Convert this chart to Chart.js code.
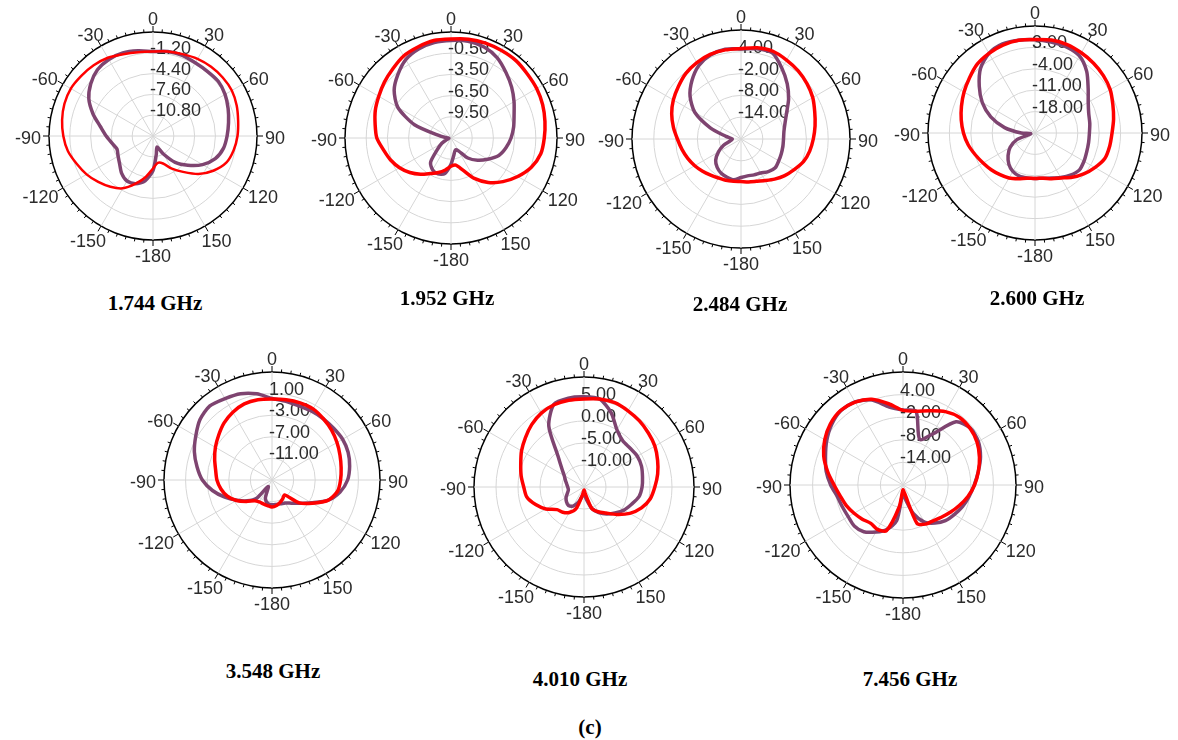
<!DOCTYPE html>
<html lang="en">
<head>
  <meta charset="UTF-8" />
  <title>Radiation Patterns (c)</title>
  <script src="https://cdn.jsdelivr.net/npm/chart.js"></script>
  <style>
    body {
      margin: 0;
      background: #fff;
    }

    #page {
      position: relative;
      width: 1178px;
      height: 740px;
      overflow: hidden;
    }

    canvas {
      position: absolute;
    }

    .caption {
      position: absolute;
      transform: translate(-50%, -50%);
      font-family: "Liberation Serif", "Times New Roman", serif;
      font-weight: bold;
      font-size: 21px;
      color: #000;
      white-space: nowrap;
    }
  </style>
</head>
<body>
  <div id="page"></div>

  <script>
    // angle of each sample, clockwise from the top (0 ... 180, -170 ... -10)
    const angleLabels = [0, 10, 20, 30, 40, 50, 60, 70, 80, 90, 100, 110, 120, 130, 140, 150, 160, 170, 180,
      -170, -160, -150, -140, -130, -120, -110, -100, -90, -80, -70, -60, -50, -40, -30, -20, -10];
    const angleTicks = [0, 30, 60, 90, 120, 150, -180, -150, -120, -90, -60, -30];

    const freqLabels = ['1.744 GHz', '1.952 GHz', '2.484 GHz', '2.600 GHz', '3.548 GHz', '4.010 GHz', '7.456 GHz'];
    const scaleMin = [-14, -12.5, -20, -25, -15, -15, -20];
    const scaleMax = [2, 2.5, 10, 10, 5, 10, 10];

    // gain in dB, red and purple traces
    const red1744 = [-1.0, -0.8, -0.6, -0.3, -0.1, 0.0, 0.0, -0.3, -0.7, -1.0, -1.4, -2.0, -3.3, -4.9, -6.8, -8.2, -9.5, -9.8, -9.0,
      -7.6, -6.2, -4.7, -3.8, -3.0, -2.2, -1.5, -0.7, -0.2, 0.2, 0.5, 0.6, 0.4, 0.2, -0.1, -0.6, -0.9];
    const purple1744 = [-1.0, -0.8, -0.8, -1.0, -1.0, -0.9, -1.2, -1.7, -2.2, -2.6, -3.0, -3.8, -5.2, -7.0, -8.7, -10.8, -12.2, -11.1, -8.7,
      -7.0, -6.2, -6.0, -6.5, -7.3, -7.8, -8.1, -7.6, -6.8, -5.8, -4.2, -2.6, -1.5, -0.7, -0.4, -0.4, -0.7];

    const red1952 = [1.5, 1.7, 1.8, 1.8, 1.8, 1.6, 1.5, 1.3, 1.0, 0.7, 0.4, -0.4, -1.6, -2.9, -4.3, -5.9, -7.7, -8.6, -8.5,
      -7.9, -7.3, -6.7, -5.8, -4.9, -4.1, -3.4, -2.8, -2.0, -1.6, -1.1, -0.7, -0.2, 0.3, 0.9, 1.2, 1.5];
    const purple1952 = [1.3, 1.4, 1.2, 0.6, -0.4, -1.3, -2.2, -3.0, -3.5, -4.0, -4.6, -5.3, -6.5, -7.6, -8.8, -10.4, -10.7, -10.1, -8.8,
      -7.4, -7.1, -7.3, -8.0, -10.0, -11.0, -11.8, -12.2, -12.0, -11.0, -7.0, -3.8, -2.0, -0.8, 0.3, 0.9, 1.2];

    const red2484 = [4.9, 5.5, 5.7, 5.1, 4.5, 3.7, 2.8, 1.6, 0.7, -0.1, -0.8, -1.7, -3.1, -4.3, -5.6, -6.8, -7.6, -8.0, -8.3,
      -8.2, -7.9, -7.6, -7.0, -6.2, -5.3, -4.4, -3.5, -2.5, -1.1, 0.3, 1.5, 2.5, 3.6, 4.3, 4.8, 4.9];
    const purple2484 = [4.8, 5.2, 5.2, 2.5, -0.2, -2.9, -5.5, -7.1, -8.0, -8.3, -8.3, -8.2, -8.0, -7.7, -8.3, -9.2, -9.5, -9.7, -9.4,
      -8.6, -8.8, -9.1, -9.8, -10.9, -12.8, -14.9, -17.0, -17.6, -15.8, -11.0, -5.3, -1.7, 1.0, 3.3, 4.6, 5.1];

    const red2600 = [5.6, 5.9, 5.8, 5.3, 4.8, 4.2, 3.4, 2.1, 1.1, 0.2, -0.2, -0.7, -2.4, -4.2, -6.1, -8.0, -9.1, -10.0, -10.1,
      -10.0, -9.1, -8.0, -7.2, -6.3, -5.4, -4.2, -2.8, -1.6, -0.5, 0.6, 1.8, 3.0, 4.4, 5.1, 5.6, 5.8];
    const purple2600 = [5.5, 5.2, 5.0, 4.1, 1.3, -2.3, -4.9, -6.3, -6.8, -7.2, -7.2, -7.0, -6.5, -6.1, -7.0, -8.2, -9.3, -10.0, -10.1,
      -10.1, -10.0, -10.5, -11.7, -13.5, -15.6, -18.7, -23.6, -20.5, -14.9, -9.6, -5.1, -1.2, 2.7, 5.1, 6.0, 5.8];

    const red3548 = [0.0, 0.1, 0.2, 0.2, -0.2, -0.6, -1.1, -1.6, -2.0, -2.3, -2.7, -4.0, -6.4, -8.4, -11.4, -11.0, -10.6, -10.2, -10.0,
      -10.2, -10.3, -10.3, -10.0, -8.8, -7.4, -6.2, -5.4, -4.8, -4.4, -3.7, -2.9, -2.1, -1.2, -0.5, 0.0, 0.1];
    const purple3548 = [0.1, -0.2, -0.4, -0.3, -0.2, -0.1, 0.1, 0.0, -0.4, -1.0, -2.2, -4.0, -6.6, -8.3, -9.4, -10.1, -10.3, -10.4, -10.4,
      -10.6, -11.4, -13.6, -10.6, -9.0, -7.5, -5.7, -3.8, -2.1, -0.9, 0.3, 1.3, 2.4, 2.9, 2.4, 2.0, 1.2];

    const red4010 = [5.0, 5.3, 5.4, 5.0, 4.6, 4.1, 3.6, 2.8, 2.0, 1.1, 0.3, -1.1, -3.0, -5.3, -7.3, -8.5, -9.8, -13.5, -14.3,
      -13.3, -9.8, -8.3, -7.5, -7.0, -5.0, -3.3, -1.8, -1.3, -0.5, 0.3, 1.4, 2.4, 3.5, 4.4, 4.9, 5.0];
    const purple4010 = [5.5, 5.3, 3.0, 0.0, -1.3, -1.3, -1.0, -1.1, -1.5, -1.8, -2.3, -3.5, -4.5, -5.8, -7.0, -8.3, -9.8, -12.3, -13.5,
      -13.0, -11.3, -10.0, -9.5, -9.8, -10.3, -11.0, -11.4, -11.3, -11.0, -10.5, -9.8, -8.4, -5.8, 1.0, 5.0, 5.5];

    const red7456 = [-0.2, -0.1, 1.0, 2.5, 3.4, 3.3, 2.7, 1.6, 0.3, -1.0, -2.5, -4.1, -5.5, -6.7, -7.6, -8.0, -9.2, -17.9, -18.7,
      -14.0, -7.1, -6.4, -6.7, -5.9, -5.0, -4.0, -3.1, -1.7, 0.3, 2.4, 4.0, 5.2, 5.8, 5.4, 4.2, 1.9];
    const purple7456 = [-0.1, -0.1, -7.1, -4.4, 1.9, 3.4, 3.1, 1.9, 0.3, -1.1, -2.2, -3.2, -4.3, -5.3, -6.8, -8.6, -11.9, -16.1, -17.9,
      -10.4, -7.4, -5.6, -3.8, -3.1, -3.2, -2.9, -2.3, -0.8, 0.7, 1.9, 3.4, 4.8, 5.7, 5.5, 4.0, 1.0];

    const redSeries = [red1744, red1952, red2484, red2600, red3548, red4010, red7456];
    const purpleSeries = [purple1744, purple1952, purple2484, purple2600, purple3548, purple4010, purple7456];

    // where each polar plot sits on the page
    const plots = [
      { cx: 153, cy: 136, r: 104, tx: 155, ty: 303 },
      { cx: 451, cy: 138, r: 106, tx: 447, ty: 298 },
      { cx: 741, cy: 139, r: 109, tx: 740, ty: 304 },
      { cx: 1035, cy: 133, r: 107, tx: 1037, ty: 298 },
      { cx: 272, cy: 480, r: 108, tx: 273, ty: 671 },
      { cx: 584, cy: 487, r: 110, tx: 580, ty: 679 },
      { cx: 903, cy: 485, r: 113, tx: 910, ty: 679 }
    ];
    const margin = 50;
    const textFont = '18px "Liberation Sans", Arial, sans-serif';

    // outer tick marks, angle labels and dB labels
    const polarDecor = {
      id: 'polarDecor',
      beforeDatasetsDraw(chart) {
        const s = chart.scales.r;
        const ctx = chart.ctx;
        const R = s.drawingArea, xc = s.xCenter, yc = s.yCenter;
        ctx.save();

        ctx.strokeStyle = '#000';
        ctx.lineWidth = 1;
        for (let a = 0; a < 360; a += 5) {
          const t = a * Math.PI / 180;
          const len = a % 30 === 0 ? 6 : 3;
          ctx.beginPath();
          ctx.moveTo(xc + R * Math.sin(t), yc - R * Math.cos(t));
          ctx.lineTo(xc + (R + len) * Math.sin(t), yc - (R + len) * Math.cos(t));
          ctx.stroke();
        }

        ctx.font = textFont;
        ctx.fillStyle = '#2b2b2b';
        ctx.textBaseline = 'middle';
        ctx.textAlign = 'center';
        angleTicks.forEach(a => {
          const t = a * Math.PI / 180;
          const sn = Math.sin(t), cs = Math.cos(t);
          const w = ctx.measureText(String(a)).width;
          const x = xc + sn * (R + 8) + sn * w / 2;
          const y = yc - cs * (R + 8) - cs * 6.5 + 3;
          ctx.fillText(String(a), x, y);
        });

        ctx.textAlign = 'left';
        s.ticks.forEach((tk, i) => {
          if (i === 0 || i === s.ticks.length - 1) return;
          const d = s.getDistanceFromCenterForValue(tk.value);
          ctx.fillText(tk.value.toFixed(2), xc - 3, yc - d - 4);
        });
        ctx.restore();
      }
    };

    const page = document.getElementById('page');

    plots.forEach((p, k) => {
      const canvas = document.createElement('canvas');
      const size = 2 * (p.r + margin);
      canvas.width = size;
      canvas.height = size;
      canvas.style.left = (p.cx - p.r - margin) + 'px';
      canvas.style.top = (p.cy - p.r - margin) + 'px';
      page.appendChild(canvas);

      new Chart(canvas, {
        type: 'radar',
        data: {
          labels: angleLabels,
          datasets: [
            {
              label: 'red',
              data: redSeries[k],
              borderColor: '#ff0000',
              borderWidth: k === 0 ? 2.5 : 3.5,
              pointRadius: 0,
              fill: false,
              tension: 0.25
            },
            {
              label: 'purple',
              data: purpleSeries[k],
              borderColor: '#7e4470',
              borderWidth: 3.5,
              pointRadius: 0,
              fill: false,
              tension: 0.25
            }
          ]
        },
        options: {
          responsive: false,
          animation: false,
          devicePixelRatio: 1,
          layout: { padding: margin },
          plugins: {
            legend: { display: false },
            tooltip: { enabled: false }
          },
          scales: {
            r: {
              min: scaleMin[k],
              max: scaleMax[k],
              ticks: { display: false, count: 6 },
              pointLabels: { display: false },
              grid: {
                circular: true,
                color: c => c.index === 5 ? '#000' : '#d6d6d6',
                lineWidth: c => c.index === 5 ? 1.5 : 1
              },
              angleLines: {
                color: '#d6d6d6',
                lineWidth: c => c.index % 3 === 0 ? 1 : 0
              }
            }
          },
          elements: { line: { borderJoinStyle: 'round' } }
        },
        plugins: [polarDecor]
      });

      const cap = document.createElement('div');
      cap.className = 'caption';
      cap.textContent = freqLabels[k];
      cap.style.left = p.tx + 'px';
      cap.style.top = p.ty + 'px';
      page.appendChild(cap);
    });

    const tag = document.createElement('div');
    tag.className = 'caption';
    tag.textContent = '(c)';
    tag.style.left = '590px';
    tag.style.top = '727px';
    page.appendChild(tag);
  </script>
</body>
</html>
